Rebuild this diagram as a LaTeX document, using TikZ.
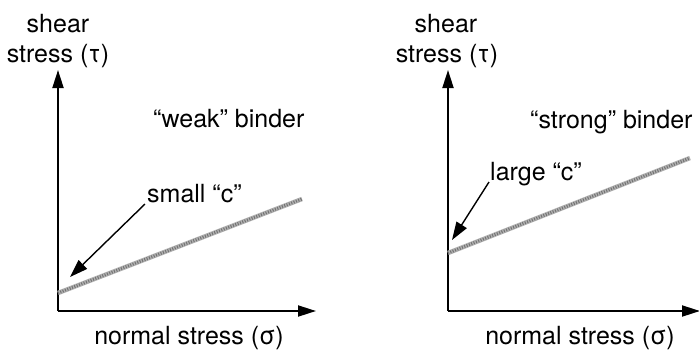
\documentclass[tikz,border=0pt]{standalone}
\usepackage{fontspec}
\setmainfont{TeX Gyre Heros}
\usetikzlibrary{arrows.meta}

\begin{document}
\begin{tikzpicture}[x=1pt,y=-1pt,
    axis/.style={line width=1.9pt,-{Triangle[length=18pt,width=11pt]}},
    pointer/.style={line width=1.4pt,-{Triangle[length=18pt,width=12pt]}},
    envelope/.style={line width=4.5pt,gray!60},
    grain/.style={line width=3pt,black!55,dash pattern=on 1pt off 1.5pt},
    lbl/.style={inner sep=0pt,font=\fontsize{25}{30}\selectfont}]
    % 图幅
    \useasboundingbox (0,0) rectangle (699,354);

    % 左图：弱粘结剂
    \coordinate (O1) at (58,311);
    \coordinate (Y1) at (58,70);
    \coordinate (X1) at (316,311);
    \draw[axis] (O1) -- (Y1);
    \draw[axis] (O1) -- (X1);
    \node[lbl,anchor=base] (shear1) at (58,32) {shear};
    \node[lbl,anchor=base] (tau1) at (58,62) {stress (τ)};
    \node[lbl,anchor=base] (sigma1) at (189,344) {normal stress (σ)};
    \node[lbl,anchor=base west] (weak) at (153,127) {“weak” binder};
    % 破坏包络线
    \coordinate (C1) at (58,293);
    \coordinate (E1) at (302,199);
    \draw[envelope] (C1) -- (E1);
    \draw[grain] (C1) -- (E1);
    % 截距标注
    \node[lbl,anchor=base west] (small) at (147,202) {small “c”};
    \coordinate (tip1) at (70,277);
    \draw[pointer] ([xshift=-2pt,yshift=-2pt]small.base west) -- (tip1);

    % 右图：强粘结剂
    \coordinate (O2) at (448,311);
    \coordinate (Y2) at (448,70);
    \coordinate (X2) at (700,311);
    \draw[axis] (O2) -- (Y2);
    \draw[axis] (O2) -- (X2);
    \node[lbl,anchor=base] (shear2) at (446,32) {shear};
    \node[lbl,anchor=base] (tau2) at (447,62) {stress (τ)};
    \node[lbl,anchor=base] (sigma2) at (580,344) {normal stress (σ)};
    \node[lbl,anchor=base west] (strong) at (530,128) {“strong” binder};
    % 破坏包络线
    \coordinate (C2) at (448,253);
    \coordinate (E2) at (690,158);
    \draw[envelope] (C2) -- (E2);
    \draw[grain] (C2) -- (E2);
    % 截距标注
    \node[lbl,anchor=base west] (large) at (490,180) {large “c”};
    \coordinate (tip2) at (452,240);
    \draw[pointer] ([xshift=-1pt,yshift=-2pt]large.base west) -- (tip2);
\end{tikzpicture}
\end{document}
